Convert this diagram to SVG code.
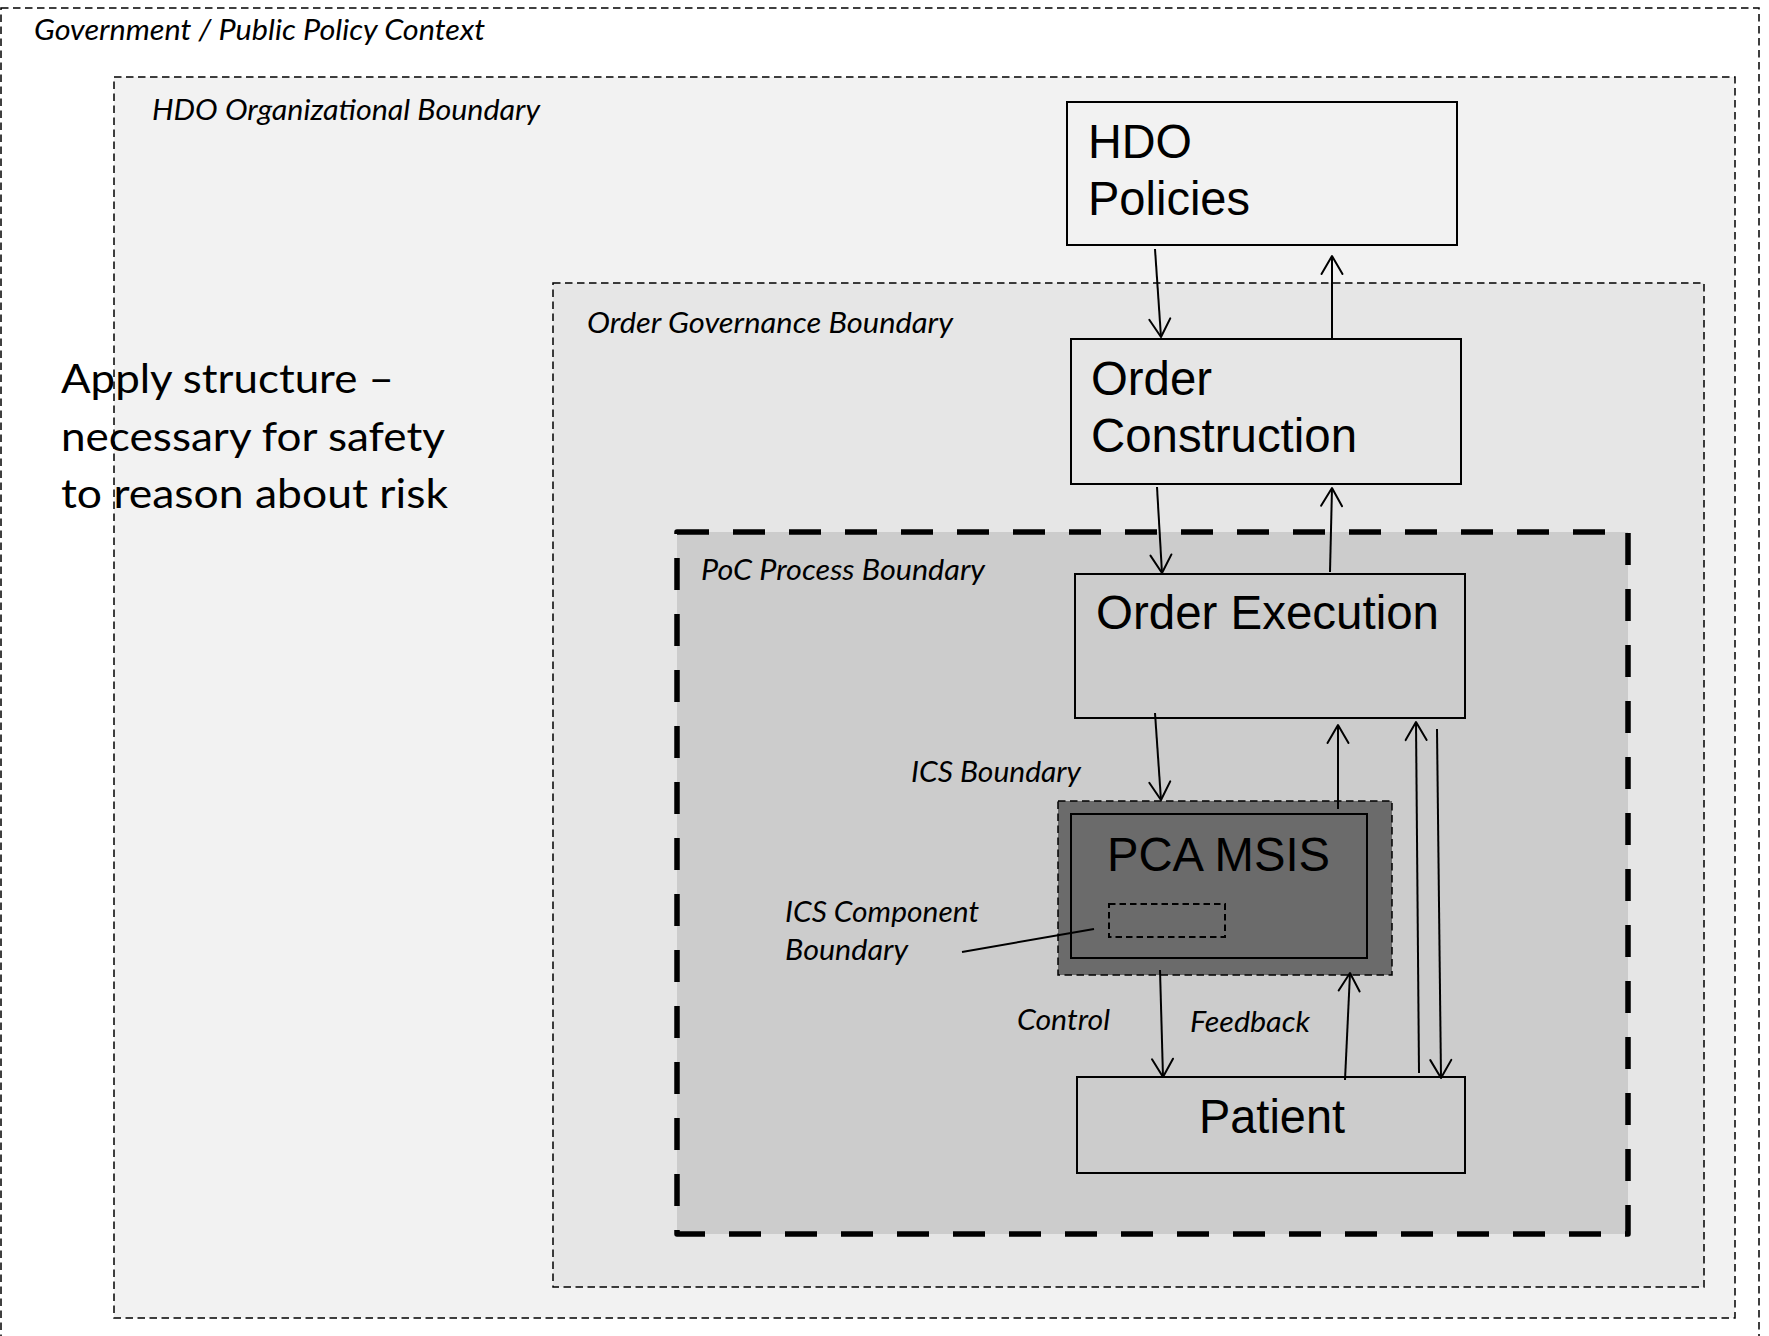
<svg xmlns="http://www.w3.org/2000/svg" width="1769" height="1336" viewBox="0 0 1769 1336">
  <defs>
    <style>
      .bnd { stroke: #000; stroke-width: 1.5; stroke-dasharray: 7.5 4.5; }
      .box { stroke: #000; stroke-width: 2; }
      .lbl { font-family: Lato, "Open Sans", "Liberation Sans", sans-serif; font-style: italic; font-size: 28px; fill: #000; }
      .big { font-family: "Liberation Sans", Arial, sans-serif; font-size: 48px; fill: #000; }
      .note { font-family: Lato, "Open Sans", "Liberation Sans", sans-serif; font-size: 40px; fill: #000; }
      .conn { stroke: #000; stroke-width: 2; fill: none; }
    </style>
    <marker id="arrow" markerUnits="userSpaceOnUse" markerWidth="24" markerHeight="26" refX="20" refY="12" orient="auto" overflow="visible">
      <path d="M2,1.5 L20,12 L2,22.5" fill="none" stroke="#000" stroke-width="2" stroke-linecap="round" stroke-linejoin="round"/>
    </marker>
  </defs>

  <rect width="1769" height="1336" fill="#fff"/>

  <!-- nested scope boundaries -->
  <g id="government-context">
    <rect class="bnd" x="1" y="8" width="1758" height="1345" fill="#fff"/>
    <text class="lbl" x="34" y="40" textLength="451" lengthAdjust="spacingAndGlyphs">Government / Public Policy Context</text>
  </g>

  <g id="hdo-boundary">
    <rect class="bnd" x="114" y="77" width="1621" height="1241" fill="#f2f2f2"/>
    <text class="lbl" x="152" y="120" textLength="388" lengthAdjust="spacingAndGlyphs">HDO Organizational Boundary</text>
  </g>

  <g id="structure-note">
    <text class="note" x="61" y="393" textLength="333" lengthAdjust="spacingAndGlyphs">Apply structure –</text>
    <text class="note" x="61" y="451" textLength="384" lengthAdjust="spacingAndGlyphs">necessary for safety</text>
    <text class="note" x="61" y="508" textLength="387" lengthAdjust="spacingAndGlyphs">to reason about risk</text>
  </g>

  <g id="order-governance-boundary">
    <rect class="bnd" x="553" y="283" width="1151" height="1004" fill="#e6e6e6"/>
    <text class="lbl" x="587" y="333" textLength="366" lengthAdjust="spacingAndGlyphs">Order Governance Boundary</text>
  </g>

  <g id="poc-process-boundary">
    <rect x="677" y="532" width="951" height="702" fill="#cccccc" stroke="#000" stroke-width="5.5" stroke-dasharray="32 24" stroke-linejoin="round"/>
    <text class="lbl" x="701" y="580" textLength="284" lengthAdjust="spacingAndGlyphs">PoC Process Boundary</text>
  </g>

  <!-- process nodes -->
  <g id="hdo-policies">
    <rect class="box" x="1067" y="102" width="390" height="143" fill="#f2f2f2"/>
    <text class="big" x="1088" y="158" textLength="104" lengthAdjust="spacingAndGlyphs">HDO</text>
    <text class="big" x="1088" y="215" textLength="162" lengthAdjust="spacingAndGlyphs">Policies</text>
  </g>

  <g id="order-construction">
    <rect class="box" x="1071" y="339" width="390" height="145" fill="#e6e6e6"/>
    <text class="big" x="1091" y="395" textLength="121" lengthAdjust="spacingAndGlyphs">Order</text>
    <text class="big" x="1091" y="452" textLength="266" lengthAdjust="spacingAndGlyphs">Construction</text>
  </g>

  <g id="order-execution">
    <rect class="box" x="1075" y="574" width="390" height="144" fill="#cccccc"/>
    <text class="big" x="1096" y="629" textLength="343" lengthAdjust="spacingAndGlyphs">Order Execution</text>
  </g>

  <g id="ics-boundary">
    <rect class="bnd" x="1058" y="801" width="334" height="174" fill="#6b6b6b" stroke-dasharray="6 4"/>
    <text class="lbl" x="911" y="782" textLength="170" lengthAdjust="spacingAndGlyphs">ICS Boundary</text>
  </g>

  <g id="pca-msis">
    <rect class="box" x="1071" y="814" width="296" height="144" fill="#6b6b6b"/>
    <text class="big" x="1107" y="871" textLength="223" lengthAdjust="spacingAndGlyphs">PCA MSIS</text>
  </g>

  <g id="ics-component-boundary">
    <rect x="1109" y="904" width="116" height="33" fill="none" stroke="#000" stroke-width="2" stroke-dasharray="6.5 4"/>
    <line class="conn" x1="962" y1="952" x2="1094" y2="929"/>
    <text class="lbl" x="785" y="922" textLength="194" lengthAdjust="spacingAndGlyphs">ICS Component</text>
    <text class="lbl" x="785" y="960" textLength="123" lengthAdjust="spacingAndGlyphs">Boundary</text>
  </g>

  <g id="patient">
    <rect class="box" x="1077" y="1077" width="388" height="96" fill="#cccccc"/>
    <text class="big" x="1199" y="1133" textLength="146" lengthAdjust="spacingAndGlyphs">Patient</text>
  </g>

  <!-- control / feedback connectors -->
  <g id="connectors">
    <line class="conn" x1="1155" y1="249" x2="1161" y2="337" marker-end="url(#arrow)"/>
    <line class="conn" x1="1332" y1="339" x2="1332" y2="256" marker-end="url(#arrow)"/>
    <line class="conn" x1="1157" y1="487" x2="1162" y2="573" marker-end="url(#arrow)"/>
    <line class="conn" x1="1330" y1="572" x2="1332" y2="488" marker-end="url(#arrow)"/>
    <line class="conn" x1="1155" y1="713" x2="1161" y2="800" marker-end="url(#arrow)"/>
    <line class="conn" x1="1338" y1="809" x2="1338" y2="725" marker-end="url(#arrow)"/>
    <line class="conn" x1="1419" y1="1073" x2="1416" y2="722" marker-end="url(#arrow)"/>
    <line class="conn" x1="1437" y1="729" x2="1441" y2="1078" marker-end="url(#arrow)"/>
    <line class="conn" x1="1160" y1="970" x2="1163" y2="1077" marker-end="url(#arrow)"/>
    <line class="conn" x1="1345" y1="1080" x2="1350" y2="973" marker-end="url(#arrow)"/>
    <text class="lbl" x="1017" y="1030" textLength="93" lengthAdjust="spacingAndGlyphs">Control</text>
    <text class="lbl" x="1190" y="1032" textLength="120" lengthAdjust="spacingAndGlyphs">Feedback</text>
  </g>
</svg>
